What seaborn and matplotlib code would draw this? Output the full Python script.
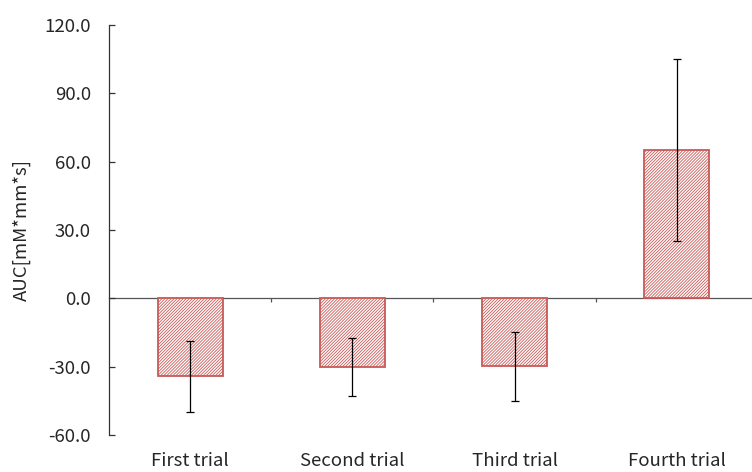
import numpy as np
import pandas as pd
import matplotlib
matplotlib.use("Agg")
import matplotlib.pyplot as plt
import seaborn as sns

# Trial results: mean area under the curve and its error
trials = ["First trial", "Second trial", "Third trial", "Fourth trial"]
auc_mean = [-34.2, -30.2, -29.8, 65.0]
auc_err = [15.6, 12.8, 15.2, 40.0]
y_ticks = [-60, -30, 0, 30, 60, 90, 120]

sns.set_theme(style="white")
plt.rcParams["font.family"] = ["Noto Sans CJK JP", "DejaVu Sans"]
plt.rcParams["hatch.linewidth"] = 0.6

df = pd.DataFrame({"trial": trials, "auc": auc_mean})

fig = plt.figure(figsize=(7.52, 4.72), dpi=100)
ax = fig.add_axes([109 / 752, 37 / 472, 649 / 752, 410 / 472])

red = "#C85A57"
sns.barplot(data=df, x="trial", y="auc", ax=ax, width=0.4,
            color="white", edgecolor=red, linewidth=1.3, errorbar=None)
for bar in ax.patches:
    bar.set_hatch("///////////")
    bar.set_facecolor("white")
    bar.set_edgecolor(red)

ax.errorbar(np.arange(len(trials)), auc_mean, yerr=auc_err, fmt="none",
            ecolor="black", elinewidth=0.9, capsize=3, capthick=0.9)

ax.set_xlim(-0.5, len(trials) - 0.5)
ax.set_ylim(-60, 120)
ax.set_yticks(y_ticks)
ax.set_yticklabels([f"{v:.1f}" for v in y_ticks])
ax.set_ylabel("AUC[mM*mm*s]", fontsize=13.4, labelpad=10)
ax.set_xlabel("")

for s in ["top", "right", "bottom"]:
    ax.spines[s].set_visible(False)
ax.spines["left"].set_color("#333333")
ax.spines["left"].set_linewidth(0.9)

ax.tick_params(axis="y", direction="in", length=4, width=0.9, color="#333333",
               pad=13, labelsize=13.4, left=True)
ax.tick_params(axis="x", length=0, pad=12, labelsize=13.4)

# zero line with category boundary ticks
zero_frac = (0 - (-60)) / 180
zax = ax.secondary_xaxis(zero_frac)
zax.set_xticks(np.arange(len(trials) - 1) + 0.5)
zax.set_xticklabels([])
zax.tick_params(direction="out", length=3, width=0.9, color="#555555")
zax.spines["bottom"].set_color("#555555")
zax.spines["bottom"].set_linewidth(0.9)
zax.spines["top"].set_color("#555555")
zax.spines["top"].set_linewidth(0.9)

fig.savefig("out.png", dpi=100)
